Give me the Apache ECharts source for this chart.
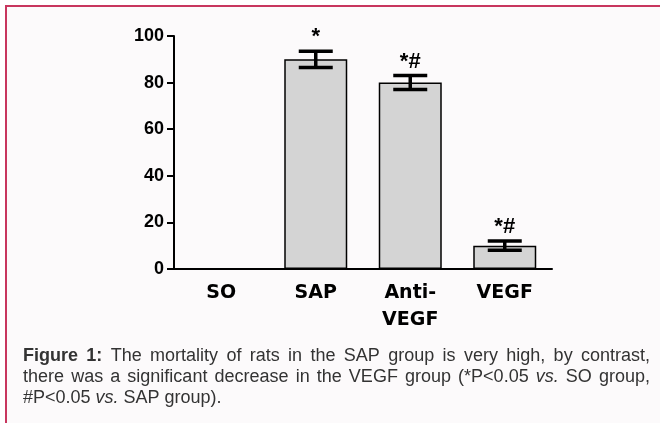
<!DOCTYPE html>
<html>
<head>
<meta charset="utf-8">
<script src="https://cdn.jsdelivr.net/npm/echarts@6/dist/echarts.min.js"></script>
<style>
html,body{margin:0;padding:0;background:#fff;}
#chart{width:660px;height:423px;}
</style>
</head>
<body>
<div id="chart"></div>
<script>
// ---- data ----
var categories = ['SO', 'SAP', 'Anti-\nVEGF', 'VEGF'];
var mortality = [0, 90, 80, 10];
var errors = [0, 3.5, 3, 2];
var sigLabels = ['', '*', '*#', '*#'];
var yMin = 0, yMax = 100, yInterval = 20;

var captionLine1 = [['Figure','b'],['1:','b'],['The'],['mortality'],['of'],['rats'],['in'],['the'],['SAP'],['group'],['is'],['very'],['high,'],['by'],['contrast,']];
var captionLine2 = [['there'],['was'],['a'],['significant'],['decrease'],['in'],['the'],['VEGF'],['group'],['(*P<0.05'],['vs.','i'],['SO'],['group,']];
var captionLine3 = [['#P<0.05'],['vs.','i'],['SAP'],['group).']];

// ---- caption layout (justified lines) ----
var mctx = document.createElement('canvas').getContext('2d');
function fontFor(s) {
  return (s === 'i' ? 'italic ' : '') + (s === 'b' ? 'bold ' : '') + '18px "Liberation Sans", Arial, sans-serif';
}
function buildLine(words, y, justify) {
  var left = 23, right = 650;
  var widths = words.map(function (w) { mctx.font = fontFor(w[1]); return mctx.measureText(w[0]).width; });
  var sum = widths.reduce(function (a, b) { return a + b; }, 0);
  mctx.font = fontFor('');
  var gap = justify ? (right - left - sum) / (words.length - 1) : mctx.measureText(' ').width;
  var x = left, out = [];
  words.forEach(function (w, i) {
    out.push({
      type: 'text', x: x, y: y, z: 5,
      style: { text: w[0], font: fontFor(w[1]), fill: '#333', textAlign: 'left', textVerticalAlign: 'middle' }
    });
    x += widths[i] + gap;
  });
  return out;
}

var graphics = [{
  type: 'rect', z: -10,
  shape: { x: 6, y: 6, width: 700, height: 500 },
  style: { fill: '#fcfafb', stroke: '#c8365e', lineWidth: 2 }
}];
graphics = graphics.concat(buildLine(captionLine1, 356, true))
  .concat(buildLine(captionLine2, 377, true))
  .concat(buildLine(captionLine3, 398, false));

var errData = mortality.map(function (m, i) { return [i, m, errors[i]]; });

function renderErr(params, api) {
  var i = api.value(0), m = api.value(1), e = api.value(2);
  var lbl = sigLabels[params.dataIndex];
  var c = api.coord([i, m]);
  var hi = api.coord([i, m + e]);
  var lo = api.coord([i, m - e]);
  var half = 17;
  var st = { stroke: '#000', lineWidth: 3.5 };
  var ch = [];
  if (e > 0) {
    ch.push({ type: 'line', shape: { x1: c[0], y1: hi[1], x2: c[0], y2: lo[1] }, style: st });
    ch.push({ type: 'line', shape: { x1: c[0] - half, y1: hi[1], x2: c[0] + half, y2: hi[1] }, style: st });
    ch.push({ type: 'line', shape: { x1: c[0] - half, y1: lo[1], x2: c[0] + half, y2: lo[1] }, style: st });
  }
  if (lbl) {
    ch.push({ type: 'text', x: c[0], y: hi[1] - 3,
      style: { text: lbl, font: 'bold 22px "Liberation Sans", Arial, sans-serif', fill: '#000', textAlign: 'center', textVerticalAlign: 'bottom' } });
  }
  return { type: 'group', children: ch };
}

var chart = echarts.init(document.getElementById('chart'), null, { renderer: 'canvas' });
chart.setOption({
  backgroundColor: '#fff',
  animation: false,
  graphic: graphics,
  grid: { left: 174, right: 108, top: 36, bottom: 154, containLabel: false },
  xAxis: {
    type: 'category',
    data: categories,
    axisLine: { lineStyle: { color: '#000', width: 2 } },
    axisTick: { alignWithLabel: true, length: 7, lineStyle: { color: '#000', width: 2 } },
    axisLabel: { color: '#000', fontWeight: 'bold', fontSize: 19, fontFamily: '"DejaVu Sans", sans-serif', margin: 11, lineHeight: 27 }
  },
  yAxis: {
    type: 'value', min: yMin, max: yMax, interval: yInterval,
    axisLine: { show: true, lineStyle: { color: '#000', width: 2 } },
    axisTick: { show: true, length: 7, lineStyle: { color: '#000', width: 2 } },
    splitLine: { show: false },
    axisLabel: { color: '#000', fontWeight: 'bold', fontSize: 18, fontFamily: '"Liberation Sans", Arial, sans-serif', margin: 10 }
  },
  series: [
    {
      type: 'bar', data: mortality, barWidth: 63,
      itemStyle: { color: '#d4d4d4', borderColor: '#000', borderWidth: 1.5 }
    },
    {
      type: 'custom', data: errData, renderItem: renderErr, z: 5,
      encode: { x: 0, y: 1 }
    }
  ]
});
</script>
</body>
</html>
